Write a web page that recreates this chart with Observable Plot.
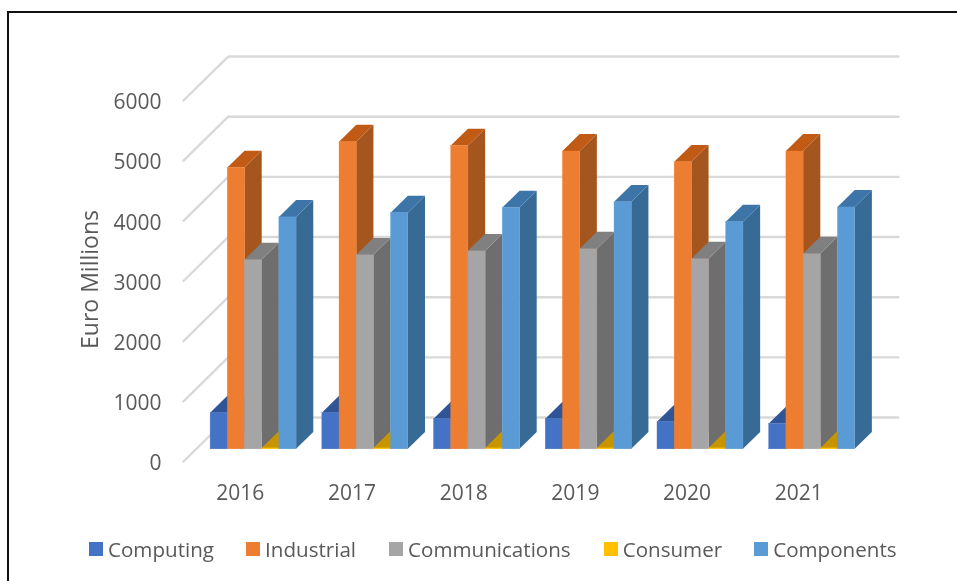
<!DOCTYPE html>
<html>
<head>
<meta charset="utf-8">
<script src="https://cdn.jsdelivr.net/npm/d3@7"></script>
<script src="https://cdn.jsdelivr.net/npm/@observablehq/plot@0.6"></script>
<style>
  html, body { margin: 0; padding: 0; background: #fff; overflow: hidden; }
  #page { position: relative; width: 957px; height: 581px; overflow: hidden; font-family: "Open Sans", sans-serif; background: #fff; filter: blur(0.4px); }
  #frame { position: absolute; left: 7px; top: 11px; right: -6px; bottom: -6px; border: 2px solid #111; }
  #chart { position: absolute; left: 0; top: 0; }
  #chart svg { display: block; }
  #legend { position: absolute; left: 89px; top: 534px; display: flex; font-size: 20.6px; color: #595959; line-height: 30px; white-space: nowrap; }
  #legend .item { display: flex; align-items: center; }
  #legend .swatch { width: 14px; height: 14px; margin-right: 5px; }
</style>
</head>
<body>
<div id="page">
  <div id="frame"></div>
  <div id="chart"></div>
  <div id="legend"></div>
</div>
<script>
const years = [2016, 2017, 2018, 2019, 2020, 2021];
const seriesNames = ["Computing", "Industrial", "Communications", "Consumer", "Components"];
const computing      = [600, 600, 500, 500, 450, 420];
const industrial     = [4675, 5105, 5040, 4950, 4770, 4950];
const communications = [3145, 3225, 3290, 3325, 3160, 3245];
const consumer       = [15, 15, 15, 15, 15, 15];
const components     = [3855, 3925, 4010, 4105, 3775, 4020];
const seriesValues = [computing, industrial, communications, consumer, components];
const yTicks = [0, 1000, 2000, 3000, 4000, 5000, 6000];

const frontColors = ["#4472c4", "#ed7d31", "#a5a5a5", "#ffc000", "#5b9bd5"];
const sideColors  = ["#2a4a86", "#a5561f", "#6e6e6e", "#b38600", "#376a94"];
const topColors   = ["#2f5597", "#c05a15", "#808080", "#c69500", "#3e75a8"];
const legendGaps  = [32, 33, 33, 32, 0];

// Oblique projection: one unit of depth moves right one x unit and up depthY y units.
const depthY = 281, wallDepth = 2.6, barPlane = 0.75, barDepth = 1;
const groupStep = 6.5, groupPad = 0.8, nGroupUnits = groupStep * years.length;

const fronts = [], faces = [];
years.forEach((year, g) => {
  seriesValues.forEach((values, s) => {
    const x0 = groupPad + g * groupStep + s + barPlane;
    const x1 = x0 + 1;
    const base = barPlane * depthY;
    const top = values[g] + base;
    const dY = barDepth * depthY;
    fronts.push({x1: x0, x2: x1, y1: base, y2: top, fill: frontColors[s]});
    const id = `${year}-${s}`;
    [[x1, top], [x1 + barDepth, top + dY], [x1 + barDepth, base + dY], [x1, base]]
      .forEach(([x, y]) => faces.push({x, y, id: id + "-side", fill: sideColors[s]}));
    [[x0, top], [x1, top], [x1 + barDepth, top + dY], [x0 + barDepth, top + dY]]
      .forEach(([x, y]) => faces.push({x, y, id: id + "-top", fill: topColors[s]}));
  });
});

const grid = yTicks.flatMap(v => [
  {x: 0, y: v, v},
  {x: wallDepth, y: v + wallDepth * depthY, v},
  {x: wallDepth + nGroupUnits, y: v + wallDepth * depthY, v}
]);

const fontFamily = '"Open Sans", sans-serif';
const labelPositions = years.map((_, g) => groupPad + 2.5 + g * groupStep);
const axisTitle = ["Euro Millions"];

const plot = Plot.plot({
  width: 957,
  height: 530,
  marginLeft: 183,
  marginRight: 59,
  marginTop: 50,
  marginBottom: 69,
  style: {fontFamily, fontSize: "21px", background: "transparent", color: "#595959"},
  x: {domain: [0, wallDepth + nGroupUnits], axis: null},
  y: {domain: [0, 6000], range: [461, 100], axis: null},
  color: {type: "identity"},
  marks: [
    Plot.line(grid, {x: "x", y: "y", z: "v", stroke: "#d9d9d9", strokeWidth: 2.4}),
    Plot.line(faces, {x: "x", y: "y", z: "id", fill: "fill", stroke: "none"}),
    Plot.rect(fronts, {x1: "x1", x2: "x2", y1: "y1", y2: "y2", fill: "fill", stroke: "fill", strokeWidth: 0.4, dx: 0.5, dy: 0.5}),
    Plot.axisY({
      ticks: yTicks, tickSize: 0, tickPadding: 22, anchor: "left", label: null, dy: 2,
      tickFormat: d => String(d), fill: "#595959", fontSize: 21
    }),
    Plot.axisX({
      ticks: labelPositions, tickSize: 0, tickPadding: 24, anchor: "bottom", label: null,
      tickFormat: d => String(years[labelPositions.indexOf(d)]), fill: "#595959", fontSize: 21
    }),
    Plot.text(axisTitle, {
      x: () => -5.4, y: () => 3025, text: d => d, rotate: -90,
      fill: "#595959", fontSize: 23, textAnchor: "middle", lineAnchor: "middle"
    })
  ]
});
document.getElementById("chart").append(plot);

const legend = d3.select("#legend");
seriesNames.forEach((name, i) => {
  const item = legend.append("div").attr("class", "item").style("margin-right", legendGaps[i] + "px");
  item.append("div").attr("class", "swatch").style("background", frontColors[i]);
  item.append("span").text(name);
});
</script>
</body>
</html>
